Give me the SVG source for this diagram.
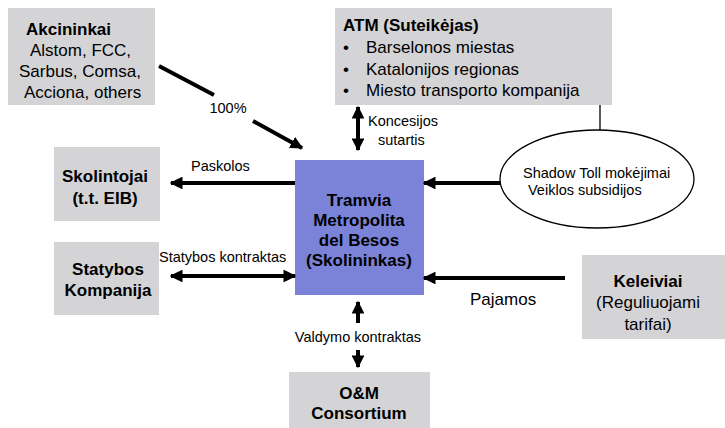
<svg xmlns="http://www.w3.org/2000/svg" width="725" height="428" viewBox="0 0 725 428">
<style>
.box{fill:#d4d4d6;stroke:none}
.t{font-family:"Liberation Sans",Arial,sans-serif;fill:#000}
.b{font-weight:bold}
.n{font-size:17px}
.s{font-size:14.5px}
.ln{stroke:#000;stroke-width:4;fill:none}
</style>
<defs>
<marker id="ah" viewBox="0 0 10 10" refX="9" refY="5" markerWidth="3.2" markerHeight="3.2" orient="auto-start-reverse" markerUnits="strokeWidth">
<path d="M0,0 L10,5 L0,10 z" fill="#000"/>
</marker>
</defs>
<rect width="725" height="428" fill="#fff"/>
<g id="akcininkai">
<rect class="box" x="8" y="8" width="147" height="97"/>
<text class="t n b" x="26" y="35">Akcininkai</text>
<text class="t n" x="30" y="56">Alstom, FCC,</text>
<text class="t n" x="19" y="77">Sarbus, Comsa,</text>
<text class="t n" x="24" y="98">Acciona, others</text>
</g>
<g id="atm">
<rect class="box" x="335" y="8" width="277" height="97"/>
<text class="t n b" x="343" y="31">ATM (Suteikėjas)</text>
<text class="t n" x="343" y="53">•</text>
<text class="t n" x="366" y="53">Barselonos miestas</text>
<text class="t n" x="343" y="75">•</text>
<text class="t n" x="366" y="75">Katalonijos regionas</text>
<text class="t n" x="343" y="96">•</text>
<text class="t n" x="366" y="96">Miesto transporto kompanija</text>
</g>
<g id="shadow">
<ellipse cx="597" cy="179" rx="97" ry="49" fill="#fff" stroke="#000" stroke-width="1.3"/>
<text class="t s" x="523" y="178">Shadow Toll mokėjimai</text>
<text class="t s" x="528" y="195">Veiklos subsidijos</text>
</g>
<g id="tramvia">
<rect x="295" y="160" width="129" height="135" fill="#7b83d9"/>
<text class="t b" font-size="17" text-anchor="middle" x="359" y="206">Tramvia</text>
<text class="t b" font-size="17" text-anchor="middle" x="359" y="226">Metropolita</text>
<text class="t b" font-size="17" text-anchor="middle" x="359" y="246">del Besos</text>
<text class="t b" font-size="17" text-anchor="middle" x="359" y="266">(Skolininkas)</text>
</g>
<g id="skolintojai">
<rect class="box" x="54" y="147" width="106" height="74"/>
<text class="t n b" text-anchor="middle" x="105" y="182">Skolintojai</text>
<text class="t n b" text-anchor="middle" x="105" y="204">(t.t. EIB)</text>
</g>
<g id="statybos">
<rect class="box" x="54" y="242" width="105" height="73"/>
<text class="t n b" text-anchor="middle" x="108" y="275">Statybos</text>
<text class="t n b" text-anchor="middle" x="108" y="296">Kompanija</text>
</g>
<g id="keleiviai">
<rect class="box" x="582" y="255" width="143" height="84"/>
<text class="t n b" text-anchor="middle" x="648" y="287">Keleiviai</text>
<text class="t n" text-anchor="middle" x="648" y="308">(Reguliuojami</text>
<text class="t n" text-anchor="middle" x="648" y="330">tarifai)</text>
</g>
<g id="om">
<rect class="box" x="289" y="372" width="141" height="56"/>
<text class="t n b" text-anchor="middle" x="359" y="399">O&amp;M</text>
<text class="t n b" text-anchor="middle" x="359" y="419">Consortium</text>
</g>
<g id="connectors">
<line class="ln" x1="159" y1="66" x2="214" y2="95" stroke-width="5"/>
<line class="ln" x1="253" y1="121" x2="302" y2="148" stroke-width="5" marker-end="url(#ah)"/>
<text class="t s" text-anchor="middle" x="228" y="113">100%</text>
<line class="ln" x1="358" y1="107" x2="358" y2="150" marker-start="url(#ah)" marker-end="url(#ah)"/>
<text class="t s" x="368" y="126">Koncesijos</text>
<text class="t s" x="378" y="145">sutartis</text>
<line x1="600" y1="105" x2="600" y2="130" stroke="#000" stroke-width="1.3"/>
<line class="ln" x1="500" y1="183" x2="424" y2="183" marker-end="url(#ah)"/>
<line class="ln" x1="295" y1="183" x2="171" y2="183" marker-end="url(#ah)"/>
<text class="t s" x="191" y="171">Paskolos</text>
<line class="ln" x1="171" y1="276" x2="295" y2="276" marker-start="url(#ah)" marker-end="url(#ah)"/>
<text class="t s" x="159" y="262">Statybos kontraktas</text>
<line class="ln" x1="565" y1="278" x2="424" y2="278" marker-end="url(#ah)"/>
<text class="t n" x="470" y="305">Pajamos</text>
<line class="ln" x1="358" y1="323" x2="358" y2="302" marker-end="url(#ah)"/>
<text class="t s" text-anchor="middle" x="358" y="342">Valdymo kontraktas</text>
<line class="ln" x1="358" y1="350" x2="358" y2="367" marker-end="url(#ah)"/>
</g>
</svg>
